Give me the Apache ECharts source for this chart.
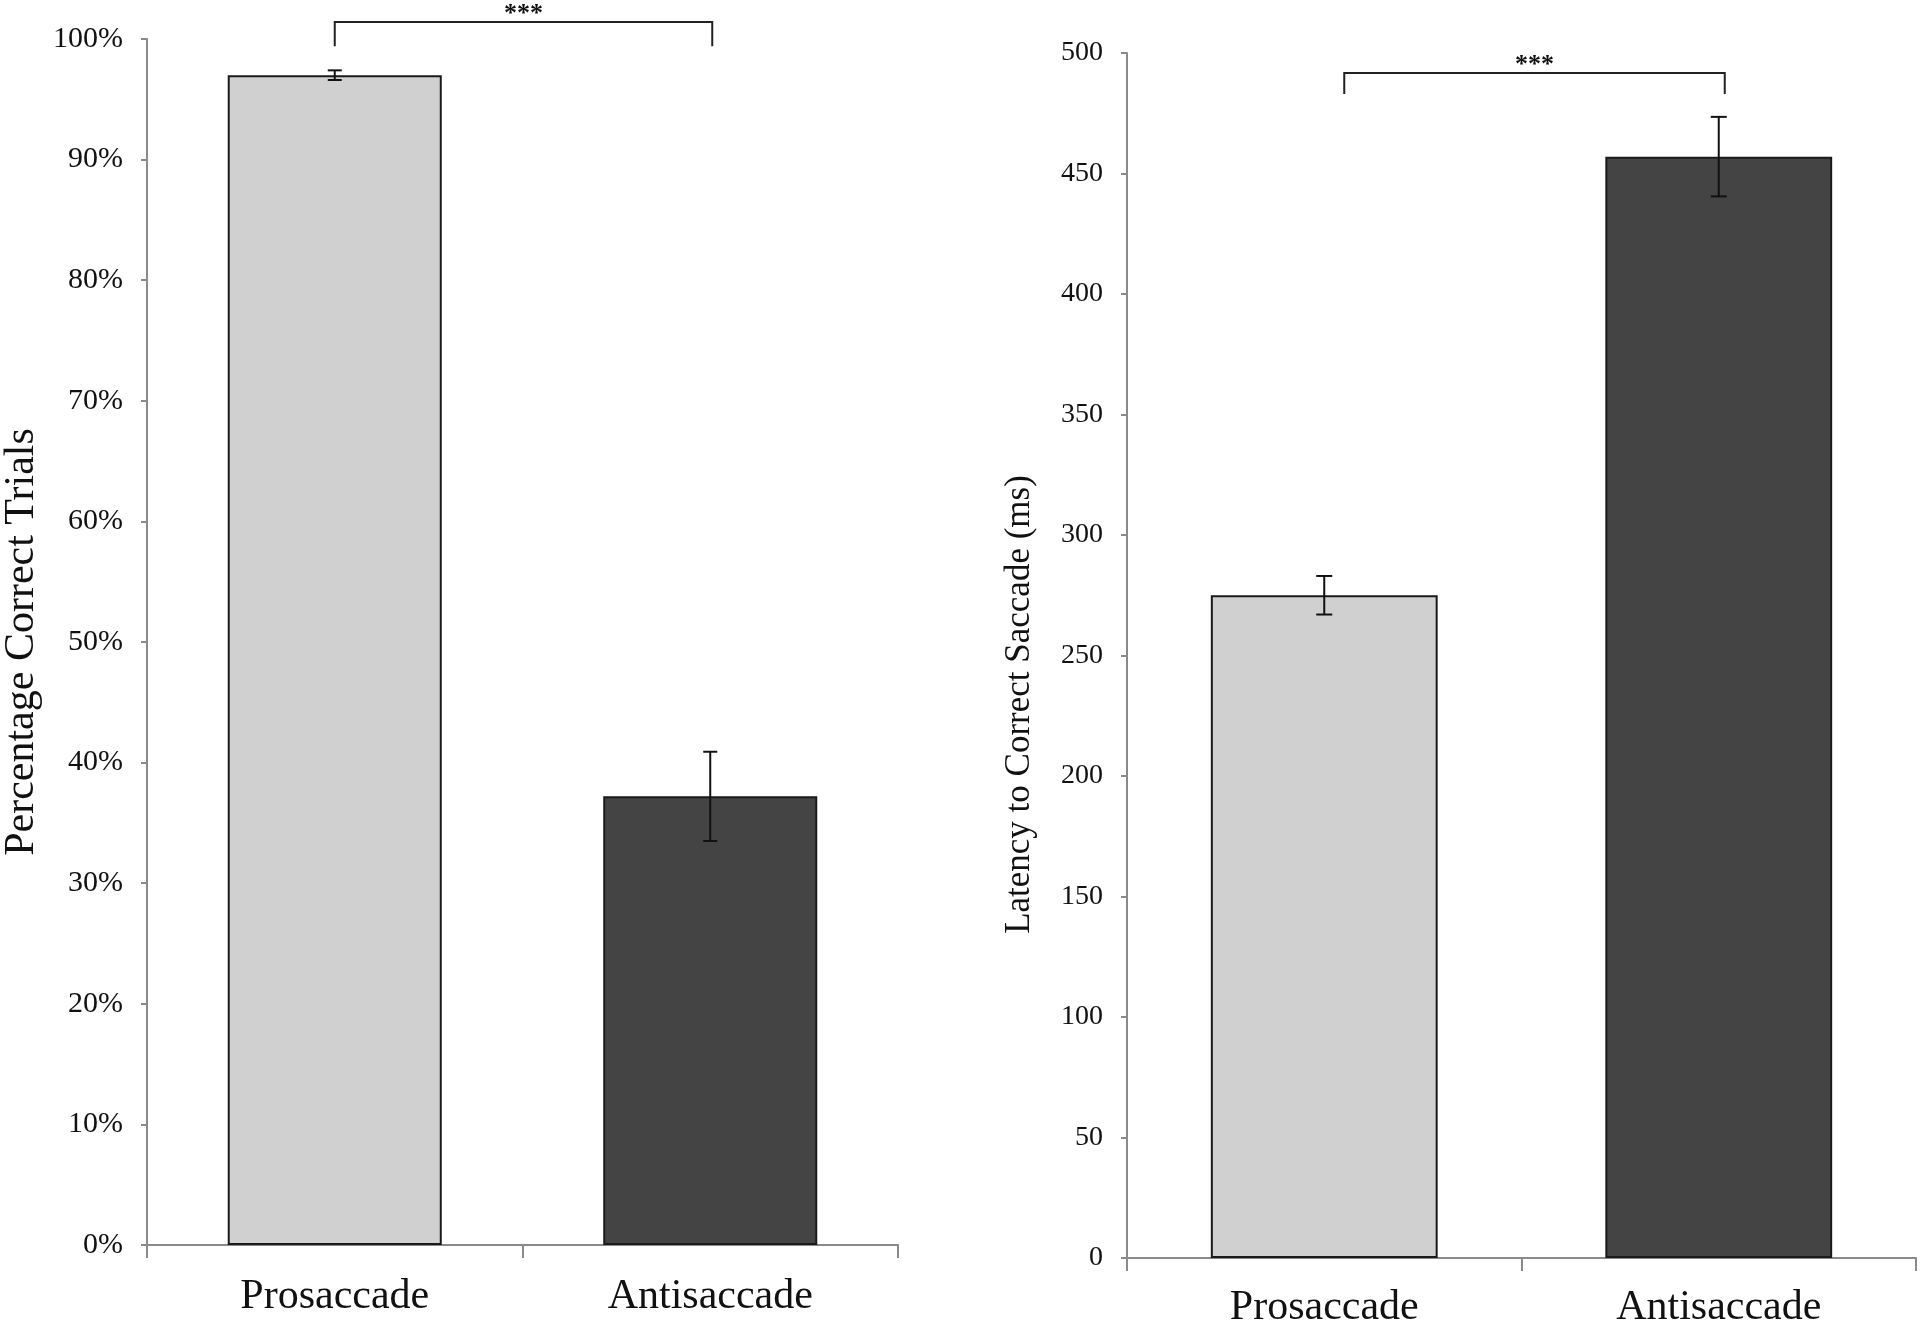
<!DOCTYPE html>
<html>
<head>
<meta charset="utf-8">
<script src="https://cdn.jsdelivr.net/npm/echarts@6/dist/echarts.min.js"></script>
<style>
html,body{margin:0;padding:0;background:#fff;}
#chart{width:1920px;height:1325px;}
</style>
</head>
<body>
<div id="chart"></div>
<script>
const categories = ['Prosaccade', 'Antisaccade'];
const accuracyMean = [97.0, 37.2];
const accuracyErr = [0.4, 3.7];
const latencyMean = [275, 457];
const latencyErr = [8, 16.5];
const barColors = ['#d0d0d0', '#444444'];
const sigLabel = '***';

const FONT = '"Liberation Serif", "Times New Roman", serif';

function barData(vals) {
  return vals.map((v, i) => ({ value: v, itemStyle: { color: barColors[i] } }));
}
function errData(means, errs) {
  return means.map((m, i) => [i, m, errs[i]]);
}
function errRender(capHalf) {
  return function (params, api) {
    const x = api.value(0), m = api.value(1), e = api.value(2);
    const top = api.coord([x, m + e]);
    const bot = api.coord([x, m - e]);
    const style = { stroke: '#111', lineWidth: 2 };
    return {
      type: 'group',
      children: [
        { type: 'line', shape: { x1: top[0], y1: top[1], x2: bot[0], y2: bot[1] }, style },
        { type: 'line', shape: { x1: top[0] - capHalf, y1: top[1], x2: top[0] + capHalf, y2: top[1] }, style },
        { type: 'line', shape: { x1: bot[0] - capHalf, y1: bot[1], x2: bot[0] + capHalf, y2: bot[1] }, style }
      ]
    };
  };
}

const axisLineGray = { lineStyle: { color: '#8a8a8a', width: 2 } };

const chart = echarts.init(document.getElementById('chart'), null, { renderer: 'canvas' });

const option = {
  animation: false,
  backgroundColor: '#ffffff',
  grid: [
    { left: 147, top: 39, width: 751, height: 1206, containLabel: false, outerBoundsMode: 'none' },
    { left: 1127, top: 53, width: 789, height: 1205, containLabel: false, outerBoundsMode: 'none' }
  ],
  xAxis: [0, 1].map(g => ({
    type: 'category',
    gridIndex: g,
    data: categories,
    axisLine: axisLineGray,
    axisTick: { show: true, length: 13, lineStyle: { color: '#8a8a8a', width: 2 } },
    axisLabel: { fontFamily: FONT, fontSize: 42, color: '#111', margin: g === 0 ? 31 : 29 }
  })),
  yAxis: [
    {
      type: 'value', gridIndex: 0, min: 0, max: 100, interval: 10,
      name: 'Percentage Correct Trials', nameLocation: 'middle', nameGap: 104,
      nameTextStyle: { fontFamily: FONT, fontSize: 42, color: '#111' },
      axisLine: { show: true, lineStyle: { color: '#8a8a8a', width: 2 } },
      axisTick: { show: true, length: 6, lineStyle: { color: '#8a8a8a', width: 2 } },
      splitLine: { show: false },
      axisLabel: { fontFamily: FONT, fontSize: 30, color: '#111', margin: 24, formatter: '{value}%' }
    },
    {
      type: 'value', gridIndex: 1, min: 0, max: 500, interval: 50,
      name: 'Latency to Correct Saccade (ms)', nameLocation: 'middle', nameGap: 90,
      nameTextStyle: { fontFamily: FONT, fontSize: 35, color: '#111', padding: [0, 98, 0, 0] },
      axisLine: { show: true, lineStyle: { color: '#8a8a8a', width: 2 } },
      axisTick: { show: true, length: 6, lineStyle: { color: '#8a8a8a', width: 2 } },
      splitLine: { show: false },
      axisLabel: { fontFamily: FONT, fontSize: 28, color: '#111', margin: 24 }
    }
  ],
  series: [
    {
      type: 'bar', xAxisIndex: 0, yAxisIndex: 0, data: barData(accuracyMean),
      barWidth: '57%',
      itemStyle: { borderColor: '#1a1a1a', borderWidth: 2 }
    },
    {
      type: 'custom', xAxisIndex: 0, yAxisIndex: 0, data: errData(accuracyMean, accuracyErr),
      renderItem: errRender(7), z: 10
    },
    {
      type: 'bar', xAxisIndex: 1, yAxisIndex: 1, data: barData(latencyMean),
      barWidth: '57.5%',
      itemStyle: { borderColor: '#1a1a1a', borderWidth: 2 }
    },
    {
      type: 'custom', xAxisIndex: 1, yAxisIndex: 1, data: errData(latencyMean, latencyErr),
      renderItem: errRender(8), z: 10
    }
  ]
};
chart.setOption(option);

// significance brackets placed through the axes' scales
function bracket(axisIdx, topVal, endVal, dxL, dxR) {
  const a = chart.convertToPixel({ xAxisIndex: axisIdx, yAxisIndex: axisIdx }, [0, topVal]);
  const b = chart.convertToPixel({ xAxisIndex: axisIdx, yAxisIndex: axisIdx }, [1, endVal]);
  const xl = a[0] + dxL, xr = b[0] + dxR;
  const style = { stroke: '#222', lineWidth: 2, fill: null };
  return [
    { type: 'polyline', shape: { points: [[xl, b[1]], [xl, a[1]], [xr, a[1]], [xr, b[1]]] }, style },
    { type: 'text', x: (xl + xr) / 2, y: a[1] - 8,
      style: { text: sigLabel, fontFamily: FONT, fontSize: 26, fontWeight: 'bold', fill: '#111', align: 'center', verticalAlign: 'middle' } }
  ];
}
chart.setOption({
  graphic: [].concat(bracket(0, 101.4, 99.4, 0, 2), bracket(1, 491.7, 483, 20, 6))
});
</script>
</body>
</html>
